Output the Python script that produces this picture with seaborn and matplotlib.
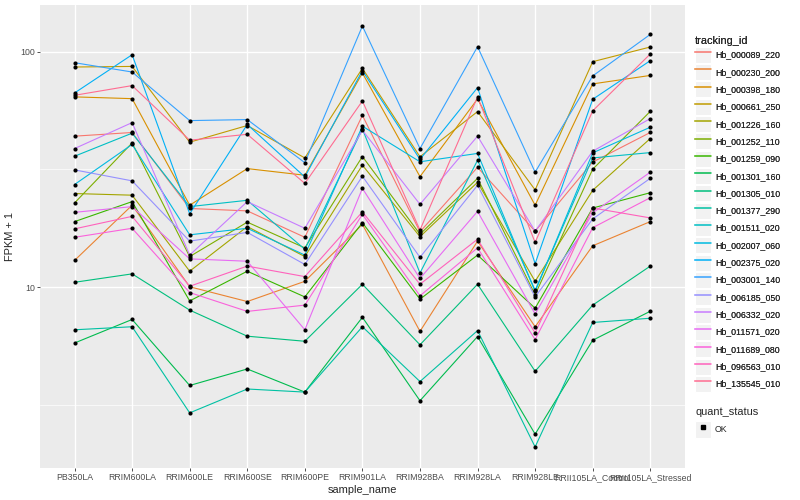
import pandas as pd
import matplotlib
matplotlib.use("Agg")
import matplotlib.pyplot as plt
import seaborn as sns
from matplotlib.lines import Line2D
from matplotlib.patches import Rectangle
from matplotlib.ticker import FixedLocator, NullFormatter

samples = ["PB350LA", "RRIM600LA", "RRIM600LE", "RRIM600SE", "RRIM600PE", "RRIM901LA",
           "RRIM928BA", "RRIM928LA", "RRIM928LE", "RRII105LA_Control", "RRII105LA_Stressed"]

tracking_ids = [
    "Hb_000089_220", "Hb_000230_200", "Hb_000398_180", "Hb_000661_250", "Hb_001226_160",
    "Hb_001252_110", "Hb_001259_090", "Hb_001301_160", "Hb_001305_010", "Hb_001377_290",
    "Hb_001511_020", "Hb_002007_060", "Hb_002375_020", "Hb_003001_140", "Hb_006185_050",
    "Hb_006332_020", "Hb_011571_020", "Hb_011689_080", "Hb_096563_010", "Hb_135545_010",
]

# FPKM + 1, one list per gene in sample order
hb_000089_220 = [43.8, 45.4, 21.6, 21.1, 16.3, 53.7, 17.2, 32.3, 17.3, 34.0, 45.4]
hb_000230_200 = [13.0, 22.3, 10.05, 8.7, 10.6, 18.5, 6.5, 15.7, 6.8, 15.0, 19.0]
hb_000398_180 = [64.3, 63.2, 22.3, 31.9, 29.9, 81.2, 29.5, 63.0, 22.3, 73.0, 79.3]
hb_000661_250 = [86.1, 86.6, 41.3, 48.6, 35.4, 85.0, 35.8, 55.7, 25.9, 90.7, 104.7]
hb_001226_160 = [25.0, 24.6, 11.7, 18.1, 13.5, 33.0, 16.4, 27.9, 10.6, 25.8, 42.8]
hb_001252_110 = [22.8, 41.0, 13.5, 18.9, 14.7, 35.9, 16.8, 29.0, 9.3, 31.7, 55.8]
hb_001259_090 = [19.0, 23.1, 8.75, 11.7, 9.1, 18.8, 8.9, 13.7, 8.15, 21.7, 25.2]
hb_001301_160 = [5.8, 7.3, 3.83, 4.5, 3.59, 7.46, 3.30, 6.18, 2.38, 5.96, 7.91]
hb_001305_010 = [10.5, 11.4, 8.0, 6.2, 5.9, 10.3, 5.7, 10.3, 4.4, 8.4, 12.3]
hb_001377_290 = [6.6, 6.8, 2.93, 3.70, 3.59, 6.8, 3.98, 6.55, 2.10, 7.09, 7.39]
hb_001511_020 = [36.0, 45.1, 22.0, 23.4, 14.5, 47.0, 11.5, 34.6, 9.7, 35.4, 37.3]
hb_002007_060 = [27.3, 40.4, 16.7, 17.8, 13.7, 48.3, 34.1, 37.0, 9.6, 37.2, 47.8]
hb_002375_020 = [66.8, 97.1, 20.5, 49.1, 29.4, 83.1, 34.9, 70.4, 12.6, 62.8, 91.6]
hb_003001_140 = [89.8, 82.0, 51.0, 51.5, 33.8, 128.5, 38.8, 105.0, 30.8, 78.9, 118.4]
hb_006185_050 = [31.5, 28.3, 15.7, 17.1, 12.5, 29.6, 13.4, 27.1, 9.1, 19.5, 29.0]
hb_006332_020 = [38.8, 50.0, 13.7, 23.1, 17.8, 46.4, 22.5, 43.8, 17.3, 37.8, 52.0]
hb_011571_020 = [20.8, 22.0, 13.2, 12.9, 6.6, 26.3, 10.9, 21.0, 7.7, 20.7, 30.8]
hb_011689_080 = [16.3, 17.8, 9.5, 7.9, 8.4, 20.4, 9.2, 14.7, 6.0, 17.9, 24.0]
hb_096563_010 = [17.7, 20.0, 10.1, 12.3, 11.1, 20.9, 10.3, 16.0, 6.4, 21.7, 19.7]
hb_135545_010 = [65.3, 71.8, 42.1, 44.6, 27.6, 61.8, 17.5, 64.3, 15.5, 56.1, 97.8]

series = [hb_000089_220, hb_000230_200, hb_000398_180, hb_000661_250, hb_001226_160,
          hb_001252_110, hb_001259_090, hb_001301_160, hb_001305_010, hb_001377_290,
          hb_001511_020, hb_002007_060, hb_002375_020, hb_003001_140, hb_006185_050,
          hb_006332_020, hb_011571_020, hb_011689_080, hb_096563_010, hb_135545_010]

# ggplot default hue palette for 20 levels
colors = ["#F8766D", "#EA8331", "#D89000", "#C09B00", "#A3A500", "#7CAE00", "#39B600",
          "#00BB4E", "#00BF7D", "#00C1A3", "#00BFC4", "#00BAE0", "#00B0F6", "#35A2FF",
          "#9590FF", "#C77CFF", "#E76BF3", "#FA62DB", "#FF62BC", "#FF6C91"]

rows = []
for tid, vals in zip(tracking_ids, series):
    for s, v in zip(samples, vals):
        rows.append((tid, s, v, "OK"))
df = pd.DataFrame(rows, columns=["tracking_id", "sample_name", "fpkm1", "quant_status"])

sns.set_theme(style="darkgrid", rc={"axes.facecolor": "#EBEBEB", "grid.color": "white"})
plt.rcParams["font.family"] = ["Liberation Sans", "DejaVu Sans"]

fig = plt.figure(figsize=(8, 5), dpi=100)
ax = fig.add_axes([0.05, 0.064, 0.806, 0.926])

sns.lineplot(data=df, x="sample_name", y="fpkm1", hue="tracking_id", hue_order=tracking_ids,
             palette=colors, linewidth=0.8, estimator=None, sort=False, legend=False, ax=ax)
sns.scatterplot(data=df, x="sample_name", y="fpkm1", color="black", s=9, linewidth=0,
                legend=False, ax=ax, zorder=3)

ax.set_yscale("log")
ax.set_yticks([10, 100], ["10", "100"])
ax.yaxis.set_minor_locator(FixedLocator([10 ** 0.5, 10 ** 1.5]))
ax.yaxis.set_minor_formatter(NullFormatter())
ax.margins(y=0.05)
ax.set_xlim(-0.6, len(samples) - 0.4)

ax.grid(which="major", color="white", linewidth=1.0)
ax.grid(which="minor", axis="y", color="white", linewidth=0.5)
ax.tick_params(which="major", length=2, width=0.6, color="#333333", pad=1.5,
               labelsize=6.3, labelcolor="#4D4D4D", bottom=True, left=True)
ax.tick_params(which="minor", length=0)
for sp in ax.spines.values():
    sp.set_visible(False)

ax.set_xlabel("sample_name", fontsize=7.9, labelpad=2)
ax.set_ylabel("FPKM + 1", fontsize=7.9, labelpad=4)

key_bg = "#F2F2F2"
handles = [(Rectangle((0, 0), 1, 1, facecolor=key_bg, edgecolor="white", linewidth=0.8),
            Line2D([], [], color=c, linewidth=1.1)) for c in colors]
leg1 = fig.legend(handles, tracking_ids, title="tracking_id", loc="upper left",
                  bbox_to_anchor=(0.869, 0.929), frameon=False, fontsize=6.3, title_fontsize=7.9,
                  handlelength=1.85, handleheight=2.47, labelspacing=0.13, handletextpad=0.4,
                  borderpad=0, borderaxespad=0, alignment="left")
fig.add_artist(leg1)

ok_handle = (Rectangle((0, 0), 1, 1, facecolor=key_bg, edgecolor="white", linewidth=0.8),
             Line2D([], [], color="black", marker="s", markersize=2.3, linestyle="none"))
leg2 = fig.legend([ok_handle], ["OK"], title="quant_status", loc="upper left",
                  bbox_to_anchor=(0.869, 0.186), frameon=False, fontsize=6.3, title_fontsize=7.9,
                  handlelength=1.85, handleheight=2.47, handletextpad=0.4,
                  borderpad=0, borderaxespad=0, alignment="left")

fig.savefig("out.png", dpi=100)
